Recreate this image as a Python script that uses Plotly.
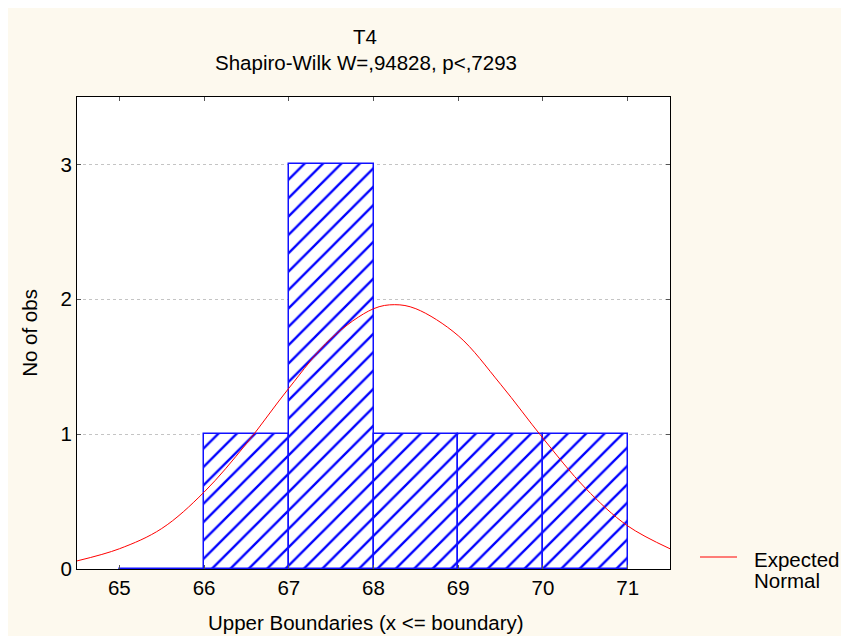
import plotly.graph_objects as go

# Histogram data (upper boundaries)
bin_left = [65, 66, 67, 68, 69, 70]
bin_counts = [0, 1, 3, 1, 1, 1]

# Expected normal curve
curve_x = [64.5, 65.0, 65.5, 66.0, 66.5, 67.0, 67.5, 68.0, 68.25, 68.5, 69.0, 69.5, 70.0, 70.5, 71.0, 71.5]
curve_y = [0.06, 0.15, 0.30, 0.57, 0.93, 1.34, 1.71, 1.93, 1.96, 1.93, 1.73, 1.37, 0.97, 0.60, 0.32, 0.15]

x_ticks = [65, 66, 67, 68, 69, 70, 71]
y_ticks = [0, 1, 2, 3]

title_main = "T4"
title_sub = "Shapiro-Wilk W=,94828, p<,7293"
x_title = "Upper Boundaries (x <= boundary)"
y_title = "No of obs"
legend_lines = ["Expected", "Normal"]

FONT = "Liberation Sans, Arial, sans-serif"
FS = 20.5
BLUE = "#0000ff"
RED = "#ff0000"
CREAM = "#fdf9ee"

# page body has an 8px margin; figure is placed at (8, 8)
W, H = 841, 628
L, T, R, B = 69, 89, 179, 67
PW, PH = W - L - R, H - T - B
X0, Y0 = 77, 569  # plot-area left / bottom in page pixels


def px(x):
    return (x - X0) / PW


def py(y):
    return (Y0 - y) / PH


fig = go.Figure()
fig.add_trace(go.Bar(
    x=[b + 0.5 for b in bin_left], y=bin_counts, width=1,
    marker=dict(color="white", line=dict(color="#1010ff", width=1.5),
                pattern=dict(shape="/", fgcolor=BLUE, bgcolor="white", fgopacity=1,
                             size=13, solidity=0.18)),
    showlegend=False, hoverinfo="skip"))
fig.add_trace(go.Scatter(
    x=curve_x, y=curve_y, mode="lines", line=dict(color=RED, width=1, shape="spline"),
    name="Expected Normal", showlegend=False))

fig.update_layout(
    width=W, height=H,
    margin=dict(l=L, r=R, t=T, b=B),
    paper_bgcolor=CREAM, plot_bgcolor="white",
    font=dict(family=FONT, size=FS, color="black"),
    bargap=0,
    showlegend=False,
    xaxis=dict(range=[64.5, 71.5], tickvals=x_ticks, showgrid=False, zeroline=False,
               showline=True, linecolor="black", linewidth=1, mirror="ticks",
               ticks="inside", ticklen=4, tickcolor="#555555"),
    yaxis=dict(range=[0, 3.5], tickvals=y_ticks, showgrid=True, gridcolor="#c4c4c4", griddash="dot",
               zeroline=False, showline=True, linecolor="black", linewidth=1, mirror="ticks",
               ticks="inside", ticklen=4, tickcolor="#555555",
               title=dict(text=y_title, standoff=17, font=dict(size=FS))),
)
fig.add_annotation(text=title_main, xref="paper", yref="paper", x=px(365), y=py(37),
                   showarrow=False, font=dict(size=FS), xanchor="center", yanchor="middle")
fig.add_annotation(text=title_sub, xref="paper", yref="paper", x=px(366), y=py(62),
                   showarrow=False, font=dict(size=FS), xanchor="center", yanchor="middle")
fig.add_annotation(text=x_title, xref="paper", yref="paper", x=px(366), y=py(622),
                   showarrow=False, font=dict(size=FS), xanchor="center", yanchor="middle")

# legend key for the expected normal curve
fig.add_shape(type="line", xref="paper", yref="paper", x0=px(700), x1=px(737), y0=py(557), y1=py(557),
              line=dict(color=RED, width=1))
fig.add_annotation(text=legend_lines[0], xref="paper", yref="paper", x=px(752), y=py(559),
                   showarrow=False, font=dict(size=FS), xanchor="left", yanchor="middle")
fig.add_annotation(text=legend_lines[1], xref="paper", yref="paper", x=px(752), y=py(580),
                   showarrow=False, font=dict(size=FS), xanchor="left", yanchor="middle")

fig.write_html("out.html")
